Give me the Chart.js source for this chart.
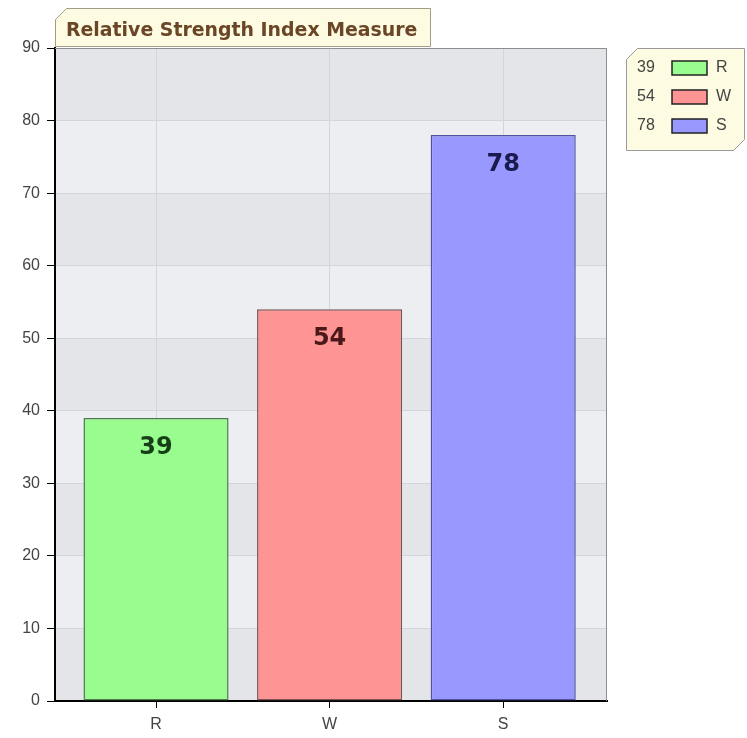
<!DOCTYPE html>
<html>
<head>
<meta charset="utf-8">
<title>Relative Strength Index Measure</title>
<script src="https://cdn.jsdelivr.net/npm/chart.js@4.4.1/dist/chart.umd.min.js"></script>
<style>
  html, body { margin: 0; padding: 0; background: #fff; }
  #wrap { width: 747px; height: 738px; position: relative; }
</style>
</head>
<body>
<div id="wrap"><canvas id="rsiChart"></canvas></div>
<script>
// Chart data
const chartTitle = "Relative Strength Index Measure";
const categories = ["R", "W", "S"];
const values = [39, 54, 78];
const yTicks = [0, 10, 20, 30, 40, 50, 60, 70, 80, 90];

// Colours per bar
const fillColors = ["#98fd8e", "#fe9494", "#9898fe"];
const edgeColors = ["#4f7a4f", "#7d5252", "#5252a0"];
const labelColors = ["#173f17", "#4a1818", "#1a1a4e"];

const boxFill = "#fdfbe1";

function cutBox(ctx, x, y, w, h, c1, c2) {
  // box with clipped top-left corner (c1) and bottom-right corner (c2)
  ctx.beginPath();
  ctx.moveTo(x + c1, y);
  ctx.lineTo(x + w, y);
  ctx.lineTo(x + w, y + h - c2);
  ctx.lineTo(x + w - c2, y + h);
  ctx.lineTo(x, y + h);
  ctx.lineTo(x, y + c1);
  ctx.closePath();
}

// striped background, frame, title, legend, value labels
const decorPlugin = {
  id: "decor",
  beforeDraw(chart) {
    const { ctx, chartArea: a, scales: { y } } = chart;
    ctx.save();
    for (let i = 0; i < yTicks.length - 1; i++) {
      const top = y.getPixelForValue(yTicks[i + 1]);
      const bot = y.getPixelForValue(yTicks[i]);
      ctx.fillStyle = i % 2 === 0 ? "#e3e5e8" : "#eceef1";
      ctx.fillRect(a.left, top, a.right - a.left, bot - top);
    }
    ctx.restore();
  },
  afterDatasetsDraw(chart) {
    const { ctx, chartArea: a } = chart;
    const meta = chart.getDatasetMeta(0);
    ctx.save();
    // grey frame top / right
    ctx.strokeStyle = "#8e8e8e";
    ctx.lineWidth = 1;
    ctx.beginPath();
    ctx.moveTo(a.left, a.top + 0.5);
    ctx.lineTo(a.right - 0.5, a.top + 0.5);
    ctx.lineTo(a.right - 0.5, a.bottom);
    ctx.stroke();

    // value labels
    ctx.font = "bold 24px 'DejaVu Sans'";
    ctx.textAlign = "center";
    ctx.textBaseline = "middle";
    meta.data.forEach((bar, i) => {
      ctx.fillStyle = labelColors[i];
      ctx.fillText(String(values[i]), bar.x, bar.y + 30);
    });

    // title box
    cutBox(ctx, 55.5, 8.5, 375, 38, 11, 0);
    ctx.fillStyle = boxFill;
    ctx.fill();
    ctx.strokeStyle = "#a39c86";
    ctx.stroke();
    ctx.font = "bold 16px 'DejaVu Sans'";
    let tw = ctx.measureText(chartTitle).width;
    ctx.font = "bold " + (16 * 352 / tw).toFixed(1) + "px 'DejaVu Sans'";
    ctx.fillStyle = "#6b4626";
    ctx.textAlign = "left";
    ctx.textBaseline = "alphabetic";
    ctx.fillText(chartTitle, 66, 36);

    // legend box
    cutBox(ctx, 626.5, 48.5, 118, 102, 11, 11);
    ctx.fillStyle = boxFill;
    ctx.fill();
    ctx.strokeStyle = "#9a9a9a";
    ctx.lineWidth = 1;
    ctx.stroke();
    ctx.font = "16px 'Liberation Sans'";
    ctx.textBaseline = "middle";
    categories.forEach((c, i) => {
      const cy = 68 + i * 29;
      ctx.fillStyle = "#444";
      ctx.fillText(String(values[i]), 637, cy);
      ctx.fillStyle = fillColors[i];
      ctx.fillRect(672, cy - 7, 35, 14);
      ctx.strokeStyle = "#222";
      ctx.lineWidth = 1.5;
      ctx.strokeRect(672, cy - 7, 35, 14);
      ctx.fillStyle = "#444";
      ctx.fillText(c, 716, cy);
    });
    ctx.restore();
  }
};

new Chart(document.getElementById("rsiChart"), {
  type: "bar",
  data: {
    labels: categories,
    datasets: [{
      data: values,
      backgroundColor: fillColors,
      borderColor: edgeColors,
      borderWidth: 1.5,
      borderSkipped: false,
      categoryPercentage: 1,
      barPercentage: 0.836
    }]
  },
  options: {
    responsive: true,
    maintainAspectRatio: false,
    animation: false,
    layout: { padding: { top: 48, right: 140, left: 0, bottom: 0 } },
    plugins: { legend: { display: false }, tooltip: { enabled: false } },
    scales: {
      x: {
        offset: true,
        grid: { offset: false, color: "#d2d5d9", tickColor: "#000", tickLength: 7 },
        border: { color: "#000", width: 2 },
        ticks: { color: "#444", font: { family: "'Liberation Sans'", size: 16 }, padding: 7 },
        afterBuildTicks(scale) {
          // leave ~14px gap between the y axis and the first category, like the original
          scale._startValue = -0.582;
          scale._valueRange = 3.18;
        },
        afterFit(scale) { scale.height = 37; }
      },
      y: {
        min: 0,
        max: 90,
        ticks: { stepSize: 10, color: "#444", font: { family: "'Liberation Sans'", size: 16 }, padding: 7 },
        grid: { color: "#d2d5d9", tickColor: "#000", tickLength: 8 },
        border: { color: "#000", width: 2 },
        afterFit(scale) { scale.width = 55; }
      }
    }
  },
  plugins: [decorPlugin]
});
</script>
</body>
</html>
